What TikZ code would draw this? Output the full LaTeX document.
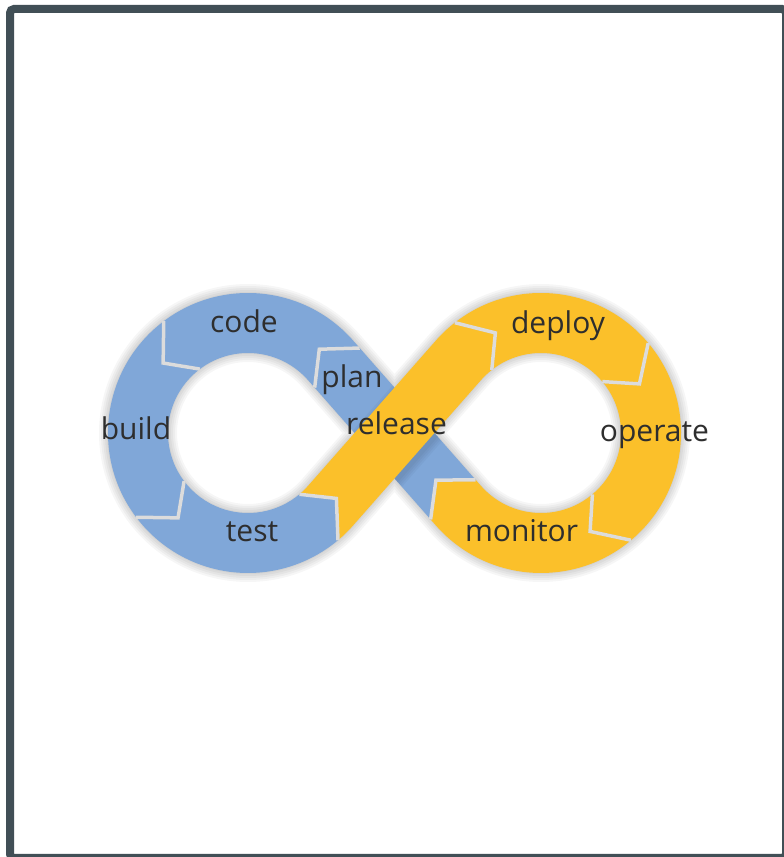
\documentclass[tikz,border=0pt]{standalone}
\usepackage{fontspec}
\setmainfont{Open Sans}
\usetikzlibrary{calc}
\definecolor{dblue}{HTML}{80A7D8}
\definecolor{dyellow}{HTML}{FBC02A}
\definecolor{framecol}{HTML}{414F56}
\definecolor{txt}{HTML}{2E2E2E}
\definecolor{seam}{HTML}{DCDCDC}
\begin{document}
\begin{tikzpicture}[x=1pt,y=1pt,
  bluepart/.style={fill=dblue},
  yellowpart/.style={fill=dyellow},
  seamline/.style={draw=seam, line width=3.5pt, line join=miter},
  seamshadow/.style={draw=black, opacity=0.10, line width=3pt, line join=miter},
  softshadow/.style={draw=black, opacity=0.035},
  lbl/.style={font=\fontsize{30}{36}\selectfont, text=txt, anchor=base, inner sep=0pt}]
\useasboundingbox (0,0) rectangle (784,857);
\clip (0,0) rectangle (784,857);
\fill[white] (0,0) rectangle (784,857);
\draw[framecol, line width=8pt, rounded corners=4pt] (10,848) rectangle (786,-1);

\coordinate (C1) at (248,424);
\coordinate (C2) at (541,424);

% tangent points
\coordinate (t1X) at ($(C1)+(41.34:140)$);
\coordinate (t1Y) at ($(C1)+(41.34:80)$);
\coordinate (t4X) at ($(C1)+(-41.34:140)$);
\coordinate (t4Y) at ($(C1)+(-41.34:80)$);
\coordinate (t5X) at ($(C2)+(138.66:80)$);
\coordinate (t5Y) at ($(C2)+(138.66:140)$);
\coordinate (t8X) at ($(C2)+(221.34:80)$);
\coordinate (t8Y) at ($(C2)+(221.34:140)$);
\coordinate (m1) at ($(C1)+(41.34:110)$);
\coordinate (m4) at ($(C1)+(-41.34:110)$);
\coordinate (m5) at ($(C2)+(138.66:110)$);

% boundaries
\coordinate (b1X) at ($(C1)+(41.34:140)+(311.34:10)$);
\coordinate (b1Y) at ($(C1)+(41.34:80)+(311.34:10)$);
\coordinate (b1T) at ($(C1)+(49.6:110)$);
\coordinate (b2X) at ($(C1)+(127:140)$);
\coordinate (b2T) at ($(C1)+(140.5:110)$);
\coordinate (b2Y) at ($(C1)+(127:80)$);
\coordinate (b3X) at ($(C1)+(217:140)$);
\coordinate (b3T) at ($(C1)+(230.5:110)$);
\coordinate (b3Y) at ($(C1)+(217:80)$);
\coordinate (b4X) at ($(C1)+(310:140)$);
\coordinate (b4T) at ($(C1)+(323.5:110)$);
\coordinate (b4Y) at ($(C1)+(310:80)$);
\coordinate (b5X) at ($(C2)+(128:80)$);
\coordinate (b5T) at ($(C2)+(114.5:110)$);
\coordinate (b5Y) at ($(C2)+(128:140)$);
\coordinate (b6X) at ($(C2)+(40:80)$);
\coordinate (b6T) at ($(C2)+(26.5:110)$);
\coordinate (b6Y) at ($(C2)+(40:140)$);
\coordinate (b7X) at ($(C2)+(-50:80)$);
\coordinate (b7T) at ($(C2)+(-63.5:110)$);
\coordinate (b7Y) at ($(C2)+(-50:140)$);
\coordinate (b8X) at ($(C2)+(221.34:80)+(131.34:8)$);
\coordinate (b8Y) at ($(C2)+(221.34:140)+(131.34:8)$);
\coordinate (b8T) at ($(C2)+(221.34:110)+(131.34:34)$);

% soft shadow under the whole band
\begin{scope}[shift={(3,-7)}]
  \foreach \w in {78,74,70,66,62}{
    \draw[softshadow, line width=\w pt] (m1) arc[start angle=41.34, end angle=318.66, radius=110]
      -- (m5) arc[start angle=138.66, end angle=-138.66, radius=110] -- cycle;
  }
\end{scope}

% blue segments
\fill[bluepart] (b8X) -- (b1X) -- (b1T) -- (b1Y) -- (b8Y) -- (b8T) -- cycle;
\fill[bluepart] (b1X) -- (t1X) arc[start angle=41.34, end angle=127, radius=140] -- (b2T) -- (b2Y) arc[start angle=127, end angle=41.34, radius=80] -- (b1Y) -- (b1T) -- cycle;
\fill[bluepart] (b2X) arc[start angle=127, end angle=217, radius=140] -- (b3T) -- (b3Y) arc[start angle=217, end angle=127, radius=80] -- (b2T) -- cycle;
\fill[bluepart] (b3X) arc[start angle=217, end angle=310, radius=140] -- (b4T) -- (b4Y) arc[start angle=310, end angle=217, radius=80] -- (b3T) -- cycle;

% shadow of the release band on the plan band
\begin{scope}
  \clip (b8X) -- (b1X) -- (b1T) -- (b1Y) -- (b8Y) -- (b8T) -- cycle;
  \foreach \w in {74,70,66,62}{
    \draw[black, opacity=0.03, line width=\w pt] ($(m4)+(2,-4)$) -- ($(m5)+(2,-4)$);
  }
\end{scope}

% yellow segments
\fill[yellowpart] (b4X) arc[start angle=310, end angle=318.66, radius=140] -- (t5X) arc[start angle=138.66, end angle=128, radius=80] -- (b5T) -- (b5Y) arc[start angle=128, end angle=138.66, radius=140] -- (t4Y) arc[start angle=318.66, end angle=310, radius=80] -- (b4T) -- cycle;
\fill[yellowpart] (b5X) arc[start angle=128, end angle=40, radius=80] -- (b6T) -- (b6Y) arc[start angle=40, end angle=128, radius=140] -- (b5T) -- cycle;
\fill[yellowpart] (b6X) arc[start angle=40, end angle=-50, radius=80] -- (b7T) -- (b7Y) arc[start angle=-50, end angle=40, radius=140] -- (b6T) -- cycle;
\fill[yellowpart] (b7X) arc[start angle=-50, end angle=-138.66, radius=80] -- (b8X) -- (b8T) -- (b8Y) -- (t8Y) arc[start angle=221.34, end angle=310, radius=140] -- (b7T) -- cycle;

% seams
\foreach \k in {1,...,8}{
  \draw[seamshadow, shift={(1.5,-1.5)}] (b\k X) -- (b\k T) -- (b\k Y);
  \draw[seamline] (b\k X) -- (b\k T) -- (b\k Y);
}

% labels
\node[lbl] (code) at (244,524) {code};
\node[lbl] (plan) at (352,469) {plan};
\node[lbl] (build) at (136,417) {build};
\node[lbl] (release) at (396.5,422) {release};
\node[lbl] (test) at (252,315) {test};
\node[lbl] (deploy) at (558,523) {deploy};
\node[lbl] (operate) at (654.5,415) {operate};
\node[lbl] (monitor) at (521.5,315) {monitor};
\end{tikzpicture}
\end{document}
